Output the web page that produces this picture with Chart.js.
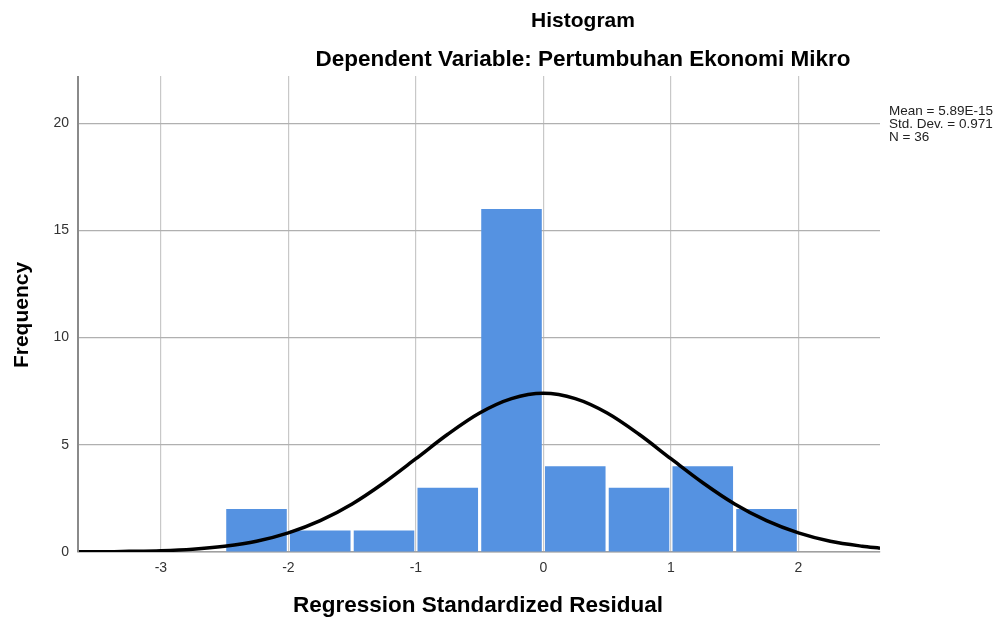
<!DOCTYPE html>
<html>
<head>
<meta charset="utf-8">
<script src="https://cdn.jsdelivr.net/npm/chart.js@4/dist/chart.umd.min.js"></script>
<style>
  html, body { margin: 0; padding: 0; background: #fff; }
  #wrap { width: 1008px; height: 618px; }
</style>
</head>
<body>
<div id="wrap"><canvas id="hist" width="1008" height="618"></canvas></div>
<script>
// ── Data ──────────────────────────────────────────────────────
const binCenters = [-2.25, -1.75, -1.25, -0.75, -0.25, 0.25, 0.75, 1.25, 1.75];
const binCounts  = [2, 1, 1, 3, 16, 4, 3, 4, 2];

// normal curve
const curveX = [-3.65, -3.5, -3.25, -3, -2.75, -2.5, -2.25, -2, -1.75, -1.5, -1.25, -1,
                -0.75, -0.5, -0.25, 0, 0.25, 0.5, 0.75, 1, 1.25, 1.5, 1.75, 2, 2.25, 2.5, 2.64];
const curveY = [0.01, 0.01, 0.03, 0.06, 0.13, 0.27, 0.50, 0.89, 1.46, 2.24, 3.23, 4.35,
                5.49, 6.48, 7.15, 7.40, 7.15, 6.48, 5.49, 4.35, 3.23, 2.24, 1.46, 0.89, 0.50, 0.27, 0.18];

const xTicks = [-3, -2, -1, 0, 1, 2];
const yTicks = [0, 5, 10, 15, 20];

const titleText    = 'Histogram';
const subtitleText = 'Dependent Variable: Pertumbuhan Ekonomi Mikro';
const xTitle = 'Regression Standardized Residual';
const yTitle = 'Frequency';
const statsLines = ['Mean = 5.89E-15', 'Std. Dev. = 0.971', 'N = 36'];

const FONT = '"Liberation Sans", Arial, sans-serif';

// ── Text plugin ───────────────────────────────────────────────
const textPlugin = {
  id: 'textPlugin',
  afterDraw(chart) {
    const ctx = chart.ctx;
    const a = chart.chartArea;
    ctx.save();
    ctx.fillStyle = '#000';
    ctx.textAlign = 'center';
    ctx.textBaseline = 'middle';
    ctx.font = 'bold 21px ' + FONT;
    ctx.fillText(titleText, 583, 21);
    ctx.font = 'bold 22.5px ' + FONT;
    ctx.fillText(subtitleText, 583, 60);
    ctx.fillText(xTitle, 478, 606);
    ctx.font = 'bold 21px ' + FONT;
    ctx.save();
    ctx.translate(22, 315);
    ctx.rotate(-Math.PI / 2);
    ctx.fillText(yTitle, 0, 0);
    ctx.restore();

    ctx.font = '13.5px ' + FONT;
    ctx.textAlign = 'left';
    ctx.fillStyle = '#222';
    statsLines.forEach((s, i) => ctx.fillText(s, 889, 111 + i * 13));

    // left axis line
    ctx.strokeStyle = '#8a8a8a';
    ctx.lineWidth = 2;
    ctx.beginPath();
    ctx.moveTo(a.left, a.top);
    ctx.lineTo(a.left, a.bottom);
    ctx.stroke();
    ctx.restore();
  }
};

new Chart(document.getElementById('hist'), {
  type: 'bar',
  data: {
    datasets: [
      {
        type: 'line',
        data: curveX.map((x, i) => ({ x: x, y: curveY[i] })),
        borderColor: '#000',
        borderWidth: 3.5,
        pointRadius: 0,
        cubicInterpolationMode: 'monotone',
        fill: false,
        order: 0
      },
      {
        type: 'bar',
        data: binCenters.map((x, i) => ({ x: x, y: binCounts[i] })),
        backgroundColor: '#5592E1',
        borderWidth: 0,
        barPercentage: 0.95,
        categoryPercentage: 1,
        order: 1
      }
    ]
  },
  options: {
    responsive: false,
    animation: false,
    layout: { padding: { left: 0, right: 128, top: 76, bottom: 0 } },
    plugins: { legend: { display: false }, tooltip: { enabled: false }, title: { display: false } },
    scales: {
      x: {
        type: 'linear',
        min: -3.65,
        max: 2.64,
        offset: false,
        afterFit(s) { s.height = 66; },
        afterBuildTicks(s) { s.ticks = xTicks.map(v => ({ value: v })); },
        grid: { offset: false, color: '#c8c8c8', lineWidth: 1.2, drawTicks: false },
        border: { display: true, color: '#a0a0a0', width: 1.5 },
        ticks: {
          padding: 8,
          color: '#333',
          font: { size: 14, family: FONT },
          maxRotation: 0
        }
      },
      y: {
        min: 0,
        max: 22.2,
        afterFit(s) { s.width = 78; },
        afterBuildTicks(s) { s.ticks = yTicks.map(v => ({ value: v })); },
        grid: { color: '#b0b0b0', lineWidth: 1.2, drawTicks: false },
        border: { display: false },
        ticks: {
          padding: 9,
          color: '#333',
          font: { size: 14, family: FONT }
        }
      }
    }
  },
  plugins: [textPlugin]
});
</script>
</body>
</html>
